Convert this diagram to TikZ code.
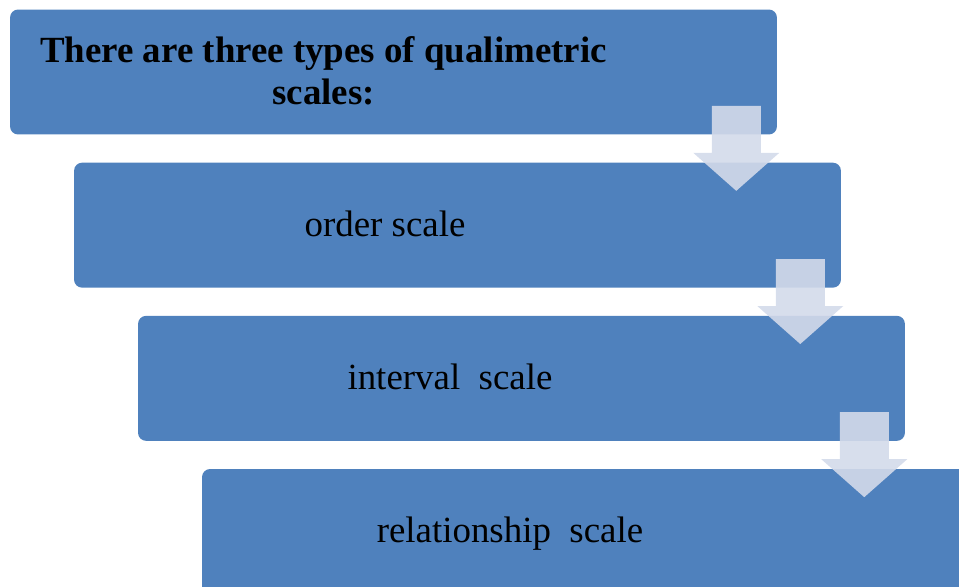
\documentclass[tikz,border=0pt]{standalone}
\usepackage{fontspec}
\setmainfont{Liberation Serif}
\usepackage{tikz}
\usetikzlibrary{positioning, calc}
\definecolor{stepblue}{RGB}{79,129,189}
\definecolor{flowgrey}{RGB}{211,218,234}
\tikzset{
  scalebox/.style={fill=stepblue, draw=none, rounded corners=0.16cm, inner sep=0pt,
                   minimum width=15.34cm, minimum height=2.5cm},
  steptext/.style={align=center, font=\fontsize{21}{22}\selectfont, text=black,
                   text height=0.68em, text depth=0.2em, inner sep=0pt},
  titletext/.style={align=center, font=\fontsize{21}{24}\selectfont\bfseries, text=black, inner sep=0pt},
  flow/.style={fill=flowgrey, fill opacity=0.9, draw=none},
}

\begin{document}
\begin{tikzpicture}[x=0.02cm, y=-0.02cm]
\useasboundingbox (0,0) rectangle (959,587);
\clip (0,0) rectangle (959,587);
% the four steps
\node[scalebox] (box1) at (393.5,72) {};
\node[scalebox, below=0.55cm of box1, xshift=1.28cm] (box2) {};
\node[scalebox, below=0.55cm of box2, xshift=1.28cm] (box3) {};
\node[scalebox, below=0.55cm of box3, xshift=1.28cm] (box4) {};
\node[titletext] (t1) at ([shift={(-70,-1)}]box1.center)
  {There are three types of qualimetric\\scales:};
\node[steptext] (t2) at ([shift={(-72.5,7)}]box2.center) {order scale};
\node[steptext] (t3) at ([shift={(-71.5,7)}]box3.center) {interval\ \ scale};
\node[steptext] (t4) at ([shift={(-75.5,7)}]box4.center) {relationship\ \ scale};
% down arrows between the steps
\coordinate (a1) at ([shift={(-41,-29)}]box1.south east);
\coordinate (a2) at ([shift={(-41,-29)}]box2.south east);
\coordinate (a3) at ([shift={(-41,-29)}]box3.south east);
\fill[flow] (a1) ++(-24.5,0) -- ++(49,0) -- ++(0,47) -- ++(18.5,0) -- ++(-43,38) -- ++(-43,-38) -- ++(18.5,0) -- cycle;
\fill[flow] (a2) ++(-24.5,0) -- ++(49,0) -- ++(0,47) -- ++(18.5,0) -- ++(-43,38) -- ++(-43,-38) -- ++(18.5,0) -- cycle;
\fill[flow] (a3) ++(-24.5,0) -- ++(49,0) -- ++(0,47) -- ++(18.5,0) -- ++(-43,38) -- ++(-43,-38) -- ++(18.5,0) -- cycle;
\end{tikzpicture}
\end{document}
